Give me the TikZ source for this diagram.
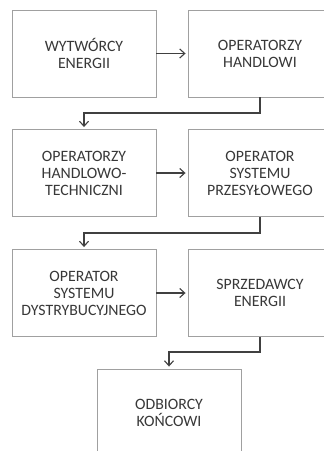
\documentclass[tikz,border=0pt]{standalone}
\usepackage{fontspec}
\setmainfont{Carlito}
\usetikzlibrary{arrows.meta}
\definecolor{boxline}{HTML}{A0A0A0}
\definecolor{txt}{HTML}{383838}
\definecolor{conn}{HTML}{404040}
\tikzset{
  stepbox/.style={draw=boxline, line width=0.9pt, minimum width=144pt, minimum height=87pt,
    inner sep=0pt, text width=142pt, align=center, text=txt,
    font=\fontsize{15.8pt}{17pt}\selectfont},
  conn/.style={draw=conn, line width=1.2pt, -{Straight Barb[length=5pt,width=9pt,line width=1.1pt]}, shorten >=2pt}
}
\begin{document}
\begin{tikzpicture}[x=1pt,y=-1pt]
\clip (0,0) rectangle (324,451);
\fill[white] (0,0) rectangle (324,451);
\node[stepbox] (b1) at (84,53.5) {WYTWÓRCY\\ENERGII};
\node[stepbox] (b2) at (260,53.5) {OPERATORZY\\HANDLOWI};
\node[stepbox] (b3) at (84,173) {OPERATORZY\\HANDLOWO-\\TECHNICZNI};
\node[stepbox] (b4) at (260,173) {OPERATOR\\SYSTEMU\\PRZESYŁOWEGO};
\node[stepbox] (b5) at (84,293) {OPERATOR\\SYSTEMU\\DYSTRYBUCYJNEGO};
\node[stepbox] (b6) at (260,293) {SPRZEDAWCY\\ENERGII};
\node[stepbox] (b7) at (169,412.5) {ODBIORCY\\KOŃCOWI};
\coordinate (e1) at (260,113);
\coordinate (e2) at (84,113);
\coordinate (e3) at (260,233);
\coordinate (e4) at (84,233);
\coordinate (e5) at (260,352);
\coordinate (e6) at (169,352);
\draw[conn] (b1) -- (b2);
\draw[conn] (b3) -- (b4);
\draw[conn] (b5) -- (b6);
\draw[conn] (b2.south) -- (e1) -- (e2) -- (b3.north);
\draw[conn] (b4.south) -- (e3) -- (e4) -- (b5.north);
\draw[conn] (b6.south) -- (e5) -- (e6) -- (b7.north);
\end{tikzpicture}
\end{document}
